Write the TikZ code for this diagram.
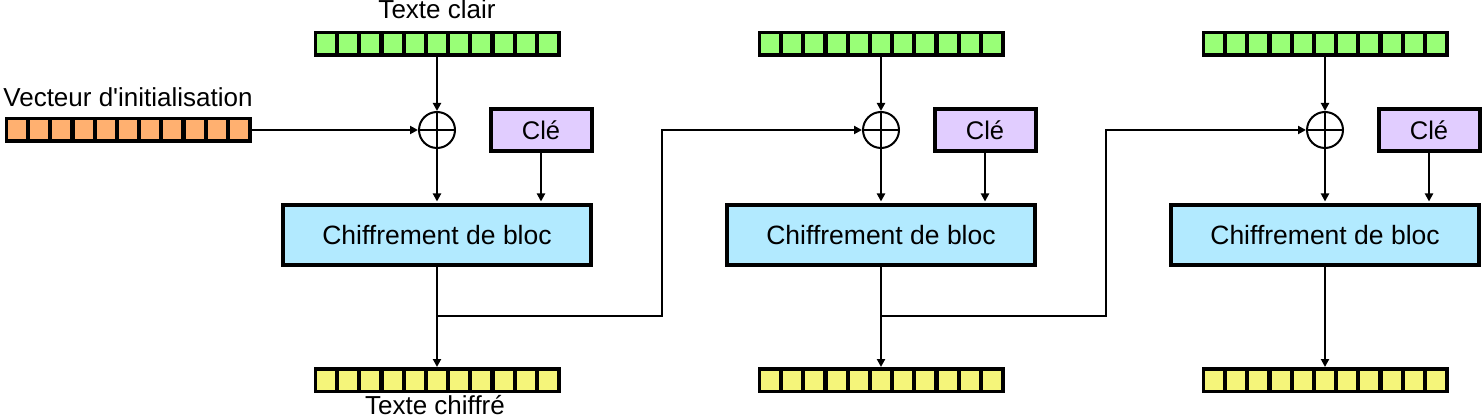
\documentclass[tikz,border=0pt]{standalone}
\usepackage{fontspec}
\setmainfont{Liberation Sans}
\usetikzlibrary{arrows.meta,calc}
\definecolor{cgreen}{RGB}{153,255,119}
\definecolor{corange}{RGB}{255,176,112}
\definecolor{cyellow}{RGB}{245,245,122}
\definecolor{cpurple}{RGB}{225,205,255}
\definecolor{cblue}{RGB}{178,234,255}
\newcommand\barcells[2]{\foreach \i in {0,...,10}{\fill[#2] ([xshift=3.5pt+\i*22.2pt,yshift=-3.5pt]#1.north west) rectangle ++(18pt,-19pt);}}
\begin{document}
\begin{tikzpicture}[x=1pt,y=-1pt,
  bitbar/.style={rectangle, fill=black, minimum width=247pt, minimum height=26pt, inner sep=0pt, outer sep=0pt},
  xorn/.style={circle, draw, line width=2pt, minimum size=36pt, inner sep=0pt,
    path picture={\draw[line width=2pt] (path picture bounding box.north) -- (path picture bounding box.south) (path picture bounding box.west) -- (path picture bounding box.east);}},
  keybox/.style={rectangle, draw, line width=4pt, fill=cpurple, minimum width=101pt, minimum height=42pt, inner sep=0pt, font=\fontsize{25.5}{30}\selectfont},
  encbox/.style={rectangle, draw, line width=4pt, fill=cblue, minimum width=308pt, minimum height=60pt, inner sep=0pt, font=\fontsize{26.5}{30}\selectfont},
  lbl/.style={anchor=base, inner sep=0pt, font=\fontsize{26}{30}\selectfont},
  conn/.style={line width=2pt, -{Triangle[length=8pt,width=8pt]}},
  wire/.style={line width=2pt}
]
\useasboundingbox (0,0) rectangle (1482,419);

% IV
\node[bitbar] (iv) at (128,130) {};
\barcells{iv}{corange}
\node[lbl] (ivlbl) at (128,107) {Vecteur d\textquotesingle initialisation};

\foreach \k/\cx in {1/437,2/881,3/1325}{
  \node[bitbar] (pt\k) at (\cx,44) {};
  \barcells{pt\k}{cgreen}
  \node[bitbar] (ct\k) at (\cx,380) {};
  \barcells{ct\k}{cyellow}
  \node[xorn] (xor\k) at (\cx,130) {};
  \node[keybox] (key\k) at (\cx+104,130) {Clé};
  \node[encbox] (enc\k) at (\cx,235) {Chiffrement de bloc};
  \draw[conn] (pt\k) -- (xor\k);
  \draw[conn, shorten >=1.5pt] (xor\k) -- (enc\k.north);
  \draw[conn, shorten >=1.5pt] (key\k) -- (key\k |- enc\k.north);
  \draw[conn] (enc\k) -- (ct\k);
}

\node[lbl] (ptlbl) at (437,19) {Texte clair};
\node[lbl] (ctlbl) at (435,414) {Texte chiffré};

\draw[conn] (iv) -- (xor1);

\coordinate (b1) at (437,316);
\coordinate (b2) at (881,316);
\draw[conn] (b1) -- ++(225pt,0pt) |- (xor2.west);
\draw[conn] (b2) -- ++(225pt,0pt) |- (xor3.west);
\end{tikzpicture}
\end{document}
